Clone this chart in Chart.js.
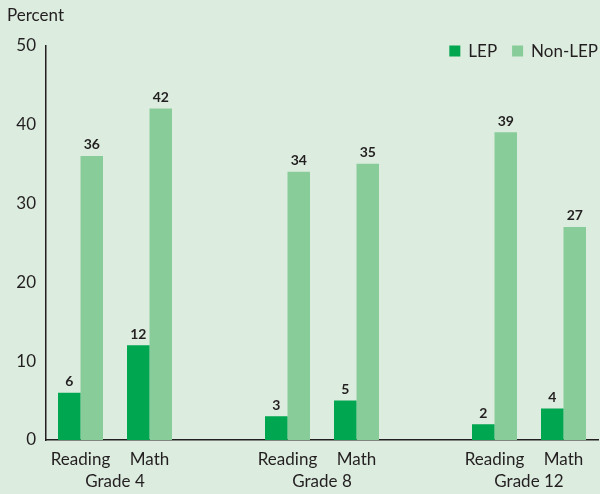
<!DOCTYPE html>
<html lang="en">
<head>
  <meta charset="UTF-8" />
  <title>LEP vs Non-LEP</title>
  <script src="https://cdn.jsdelivr.net/npm/chart.js"></script>
  <style>
    body { margin: 0; background: #dcecdf; }
    #wrap { width: 600px; height: 494px; }
  </style>
</head>
<body>
  <div id="wrap"><canvas id="chart" width="600" height="494"></canvas></div>
  <script>
    const grades = ['Grade 4', 'Grade 8', 'Grade 12'];
    const subjects = ['Reading', 'Math'];
    const lep = [6, 12, 3, 5, 2, 4];
    const nonLep = [36, 42, 34, 35, 39, 27];
    const yTicks = [0, 10, 20, 30, 40, 50];

    // build 8 slots: two subjects per grade, an empty slot between grades
    const labels = [];
    const lepSlots = [];
    const nonLepSlots = [];
    grades.forEach((g, gi) => {
      subjects.forEach((s, si) => {
        labels.push(s);
        lepSlots.push(lep[gi * 2 + si]);
        nonLepSlots.push(nonLep[gi * 2 + si]);
      });
      if (gi < grades.length - 1) {
        labels.push('');
        lepSlots.push(null);
        nonLepSlots.push(null);
      }
    });
    const gradeCenters = grades.map((g, gi) => gi * 3 + 0.5);

    const ink = '#231f20';
    Chart.defaults.font.family = 'Lato, sans-serif';
    Chart.defaults.color = ink;

    const valueLabels = {
      id: 'valueLabels',
      afterDatasetsDraw(chart) {
        const ctx = chart.ctx;
        ctx.save();
        ctx.font = 'bold 14px Lato, sans-serif';
        ctx.fillStyle = ink;
        ctx.textAlign = 'center';
        ctx.textBaseline = 'bottom';
        chart.data.datasets.forEach((ds, i) => {
          chart.getDatasetMeta(i).data.forEach((el, j) => {
            if (ds.data[j] == null) return;
            ctx.fillText(ds.data[j], el.x, el.y - 4);
          });
        });
        ctx.restore();
      }
    };

    const cornerLegend = {
      id: 'cornerLegend',
      afterDraw(chart) {
        const ctx = chart.ctx;
        ctx.save();
        ctx.font = '17px Lato, sans-serif';
        ctx.textBaseline = 'middle';
        const box = 11, gap = 8, space = 15, cy = 51;
        const items = chart.data.datasets.map(ds => ({
          text: ds.label, color: ds.backgroundColor,
          w: box + gap + ctx.measureText(ds.label).width
        }));
        let total = items.reduce((a, it) => a + it.w, 0) + space * (items.length - 1);
        let x = chart.chartArea.right - total;
        items.forEach(it => {
          ctx.fillStyle = it.color;
          ctx.fillRect(x, cy - box / 2, box, box);
          ctx.fillStyle = ink;
          ctx.fillText(it.text, x + box + gap, cy + 1);
          x += it.w + space;
        });
        ctx.restore();
      }
    };

    new Chart(document.getElementById('chart'), {
      type: 'bar',
      data: {
        labels,
        datasets: [
          { label: 'LEP', data: lepSlots, backgroundColor: '#00a650' },
          { label: 'Non-LEP', data: nonLepSlots, backgroundColor: '#88cc99' }
        ]
      },
      options: {
        responsive: false,
        animation: false,
        categoryPercentage: 0.652,
        barPercentage: 1,
        layout: { padding: { left: 7, right: 2, top: 0, bottom: 0 } },
        plugins: {
          legend: { display: false },
          tooltip: { enabled: false },
          title: {
            display: true,
            text: 'Percent',
            align: 'start',
            color: ink,
            font: { size: 17, weight: 'normal' },
            padding: { top: 5, bottom: 20 }
          }
        },
        scales: {
          y: {
            min: 0,
            max: 50,
            afterBuildTicks: s => { s.ticks = yTicks.map(v => ({ value: v })); },
            afterFit: s => { s.width = 39; },
            grid: { display: false, drawTicks: false },
            border: { display: true, color: ink, width: 1.5 },
            ticks: { padding: 10, font: { size: 17 }, color: ink }
          },
          x: {
            weight: 0,
            afterFit: s => { s.height = 29; },
            grid: { display: false, drawTicks: false, tickLength: 0 },
            border: { display: true, color: ink, width: 1.5 },
            ticks: { padding: 11, font: { size: 17, lineHeight: 1 }, color: ink, autoSkip: false, maxRotation: 0 }
          },
          x2: {
            type: 'linear',
            axis: 'x',
            position: 'bottom',
            weight: 1,
            offset: false,
            min: -0.5,
            max: 7.5,
            afterFit: s => { s.height = 25; },
            afterBuildTicks: s => { s.ticks = gradeCenters.map(v => ({ value: v })); },
            grid: { display: false, drawTicks: false, tickLength: 0, offset: false },
            border: { display: false },
            ticks: {
              padding: 4,
              font: { size: 17, lineHeight: 1 },
              color: ink,
              autoSkip: false,
              maxRotation: 0,
              callback: v => grades[gradeCenters.indexOf(v)]
            }
          }
        }
      },
      plugins: [valueLabels, cornerLegend]
    });
  </script>
</body>
</html>
